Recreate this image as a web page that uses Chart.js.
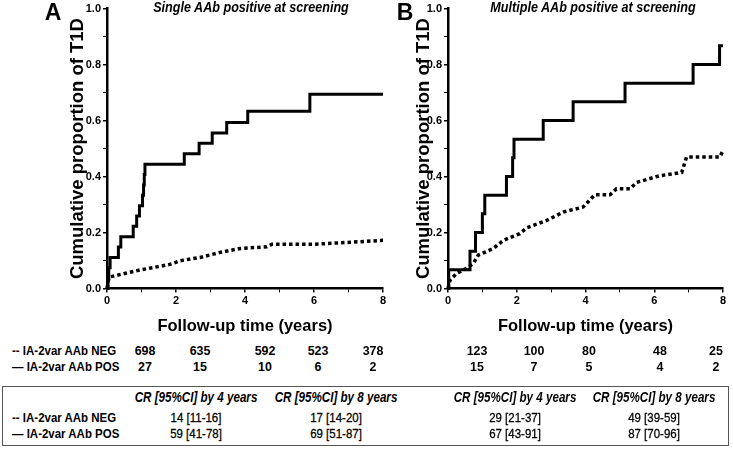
<!DOCTYPE html>
<html lang="en">
<head>
<meta charset="UTF-8">
<title>IA-2var AAb cumulative risk of T1D</title>
<script src="https://cdn.jsdelivr.net/npm/chart.js"></script>
<style>
  body { margin: 0; background: #fff; }
  #wrap { position: relative; width: 733px; height: 449px; overflow: hidden; font-family: "Liberation Sans", Arial, sans-serif; color: #000; }
  canvas { position: absolute; top: 0; }
  .txt { position: absolute; white-space: nowrap; line-height: 1; }
  /* the original uses a condensed face; squeeze Liberation Sans to match */
  .c { transform: translate(-50%, -50%) scaleX(0.85); }
  .l { transform-origin: 0 50%; transform: translate(0, -50%) scaleX(0.85); }
  #box { position: absolute; left: 2px; top: 386px; width: 725px; height: 58px; border: 1px solid #555; }
</style>
</head>
<body>
<div id="wrap">
  <canvas id="chartA" width="395" height="340" style="left:0"></canvas>
  <canvas id="chartB" width="361" height="340" style="left:372px"></canvas>
  <div id="box"></div>
</div>
<script>
// ---- data ----
const xTickLabels = ['0', '2', '4', '6', '8'];
const yTickLabels = ['0.0', '0.2', '0.4', '0.6', '0.8', '1.0'];

// A: single AAb positive at screening
const singlePosYears = [0, 0.03, 0.05, 0.09, 0.33, 0.40, 0.76, 0.86, 0.94, 1.03, 1.06, 1.08, 1.10, 2.24, 2.67, 3.05, 3.47, 4.08, 5.88, 8.0];
const singlePosRisk  = [0, 0.037, 0.074, 0.111, 0.148, 0.185, 0.222, 0.259, 0.296, 0.333, 0.370, 0.407, 0.444, 0.481, 0.519, 0.556, 0.593, 0.633, 0.694, 0.694];
const singleNegYears = [0, 0.05, 0.10, 0.95, 1.82, 2.11, 2.70, 3.28, 3.86, 4.63, 4.78, 6.00, 7.15, 8.0];
const singleNegRisk  = [0, 0.035, 0.042, 0.066, 0.086, 0.099, 0.111, 0.129, 0.143, 0.149, 0.158, 0.158, 0.166, 0.172];

// B: multiple AAb positive at screening
const multiPosYears = [0, 0.02, 0.64, 0.80, 1.00, 1.07, 1.70, 1.88, 1.92, 2.77, 3.64, 5.15, 7.13, 7.90, 8.0];
const multiPosRisk  = [0, 0.067, 0.133, 0.200, 0.267, 0.333, 0.400, 0.467, 0.533, 0.600, 0.667, 0.733, 0.800, 0.867, 0.867];
const multiNegYears = [0, 0.06, 0.25, 0.54, 0.74, 0.88, 1.32, 1.61, 2.09, 2.29, 2.87, 3.35, 3.93, 4.27, 4.71, 4.90, 5.29, 5.49, 6.16, 6.55, 6.80, 6.94, 7.91, 7.99];
const multiNegRisk  = [0, 0.030, 0.054, 0.072, 0.090, 0.119, 0.143, 0.172, 0.196, 0.217, 0.243, 0.273, 0.291, 0.335, 0.335, 0.356, 0.356, 0.379, 0.403, 0.410, 0.415, 0.470, 0.470, 0.490];

// numbers at risk (0, 2, 4, 6, 8 years)
const groupLabels = ['-- IA-2var AAb NEG', '\u2014 IA-2var AAb POS'];
const singleNegAtRisk = [698, 635, 592, 523, 378];
const singlePosAtRisk = [27, 15, 10, 6, 2];
const multiNegAtRisk = [123, 100, 80, 48, 25];
const multiPosAtRisk = [15, 7, 5, 4, 2];

// cumulative risk table
const crHeaders = ['CR [95%CI] by 4 years', 'CR [95%CI] by 8 years'];
const singleNegCR = ['14 [11-16]', '17 [14-20]'];
const singlePosCR = ['59 [41-78]', '69 [51-87]'];
const multiNegCR = ['29 [21-37]', '49 [39-59]'];
const multiPosCR = ['67 [43-91]', '87 [70-96]'];

const panelTitles = ['Single AAb positive at screening', 'Multiple AAb positive at screening'];

// ---- charts ----
const ARIAL = '"Liberation Sans", Arial, sans-serif';

function pts(xs, ys) {
    return xs.map(function (x, i) { return { x: x, y: ys[i] }; });
}

// axisLeft = distance from the canvas left edge to the y axis line
function makeChart(id, posX, posY, negX, negY, padLeft, padRight, axisLeft) {
    const canvas = document.getElementById(id);
    return new Chart(canvas, {
        type: 'line',
        data: {
            datasets: [{
                data: pts(posX, posY),
                borderColor: '#000',
                borderWidth: 3,
                stepped: 'before',
                pointRadius: 0,
                fill: false,
                clip: false
            }, {
                data: pts(negX, negY),
                borderColor: '#000',
                borderWidth: 3.5,
                borderDash: [3.5, 3],
                borderCapStyle: 'butt',
                pointRadius: 0,
                fill: false,
                clip: false
            }]
        },
        options: {
            responsive: false,
            animation: false,
            events: [],
            layout: { padding: { left: padLeft, right: padRight, top: 7, bottom: 0 } },
            plugins: { legend: { display: false }, tooltip: { enabled: false } },
            scales: {
                x: {
                    type: 'linear',
                    min: 0, max: 8,
                    afterFit: function (s) { s.height = 51.5; },
                    border: { display: true, color: '#000', width: 2.5 },
                    grid: {
                        drawOnChartArea: false, drawTicks: true, tickLength: 4,
                        color: '#000',
                        lineWidth: function (c) { return c.tick && c.tick.value % 2 === 0 ? 1.5 : 1; }
                    },
                    ticks: {
                        stepSize: 1, autoSkip: false, maxRotation: 0, padding: 2,
                        color: '#000',
                        font: { family: ARIAL, size: 11, weight: 'bold' },
                        callback: function (v) { return v % 2 === 0 ? xTickLabels[v / 2] : ''; }
                    },
                    title: {
                        display: true, text: 'Follow-up time (years)', color: '#000',
                        font: { family: ARIAL, size: 16.5, weight: 'bold' },
                        padding: { top: 0, bottom: 4 }
                    }
                },
                y: {
                    type: 'linear',
                    min: 0, max: 1,
                    afterFit: function (s) { s.width = axisLeft - padLeft; },
                    border: { display: true, color: '#000', width: 2.5 },
                    grid: {
                        drawOnChartArea: false, drawTicks: true, tickLength: 4,
                        color: '#000',
                        lineWidth: function (c) { return c.tick && Math.round(c.tick.value * 10) % 2 === 0 ? 1.5 : 1; }
                    },
                    ticks: {
                        stepSize: 0.1, autoSkip: false, padding: 2,
                        color: '#000',
                        font: { family: ARIAL, size: 11, weight: 'bold' },
                        callback: function (v) {
                            const k = Math.round(v * 10);
                            return k % 2 === 0 ? yTickLabels[k / 2] : '';
                        }
                    },
                    title: {
                        display: true, text: 'Cumulative proportion of T1D', color: '#000',
                        font: { family: ARIAL, size: 18.5, weight: 'bold' },
                        padding: { top: 4.9, bottom: 0 }
                    }
                }
            }
        }
    });
}

// A: plot 107..383 ; B: plot 448..723 (canvas B starts at x=372)
makeChart('chartA', singlePosYears, singlePosRisk, singleNegYears, singleNegRisk, 62, 12, 107);
makeChart('chartB', multiPosYears, multiPosRisk, multiNegYears, multiNegRisk, 36, 10, 76);

// ---- text around the charts ----
const wrap = document.getElementById('wrap');
function addText(str, x, y, cls, css) {
    const d = document.createElement('div');
    d.className = 'txt ' + cls;
    d.textContent = str;
    d.style.left = x + 'px';
    d.style.top = y + 'px';
    Object.assign(d.style, css || {});
    wrap.appendChild(d);
}

const letterCss = { fontWeight: 'bold', fontSize: '23px', transform: 'translate(-50%, -50%)' };
addText('A', 53, 12, 'c', letterCss);
addText('B', 405, 12, 'c', letterCss);

const titleCss = { fontWeight: 'bold', fontStyle: 'italic', fontSize: '14px', transform: 'translate(-50%, -50%) scaleX(0.9)' };
addText(panelTitles[0], 251, 7, 'c', titleCss);
addText(panelTitles[1], 593, 7, 'c', titleCss);

// numbers at risk
const riskColsA = [145, 200, 265, 318, 373];
const riskColsB = [477, 534, 589, 660, 716];
const rowCss = { fontWeight: 'bold', fontSize: '13.5px' };
const numCss = { fontWeight: 'bold', fontSize: '13.5px', transform: 'translate(-50%, -50%) scaleX(0.92)' };
addText(groupLabels[0], 12, 351, 'l', rowCss);
addText(groupLabels[1], 12, 367, 'l', rowCss);
[[singleNegAtRisk, riskColsA, 351], [singlePosAtRisk, riskColsA, 367],
 [multiNegAtRisk, riskColsB, 351], [multiPosAtRisk, riskColsB, 367]].forEach(function (r) {
    r[0].forEach(function (n, i) { addText(String(n), r[1][i], r[2], 'c', numCss); });
});

// CR table
const crCols = [196, 336, 515, 654];
const headCss = { fontStyle: 'italic', fontWeight: 'bold', fontSize: '14px', transform: 'translate(-50%, -50%) scaleX(0.83)' };
const valCss = { fontSize: '13.5px', WebkitTextStroke: '0.3px #000' };
crCols.forEach(function (x, i) { addText(crHeaders[i % 2], x, 397, 'c', headCss); });
addText(groupLabels[0], 12, 418, 'l', rowCss);
addText(groupLabels[1], 12, 434, 'l', rowCss);
[singleNegCR, multiNegCR].forEach(function (a, j) {
    a.forEach(function (s, i) { addText(s, crCols[j * 2 + i], 418, 'c', valCss); });
});
[singlePosCR, multiPosCR].forEach(function (a, j) {
    a.forEach(function (s, i) { addText(s, crCols[j * 2 + i], 434, 'c', valCss); });
});
</script>
</body>
</html>
